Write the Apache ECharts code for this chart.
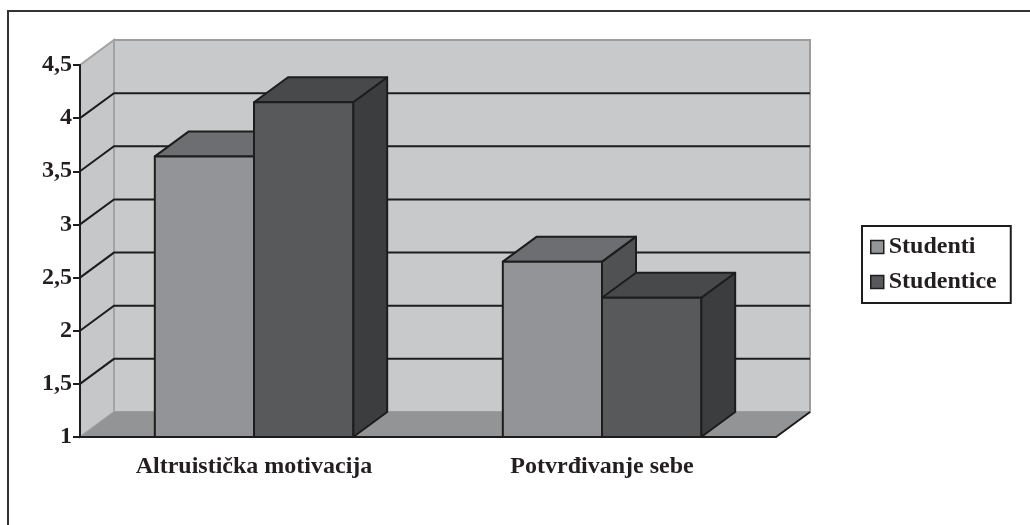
<!DOCTYPE html>
<html lang="hr">
<head>
    <meta charset="UTF-8">
    <title>Motivacija</title>
    <script src="https://cdn.jsdelivr.net/npm/echarts@6/dist/echarts.min.js"></script>
    <style>
        html, body { margin: 0; padding: 0; background: #fff; }
        #frame {
            position: absolute; left: 7px; top: 10px; right: 0; bottom: 0;
            border-left: 2px solid #333; border-top: 2px solid #333;
        }
        #container {
            position: absolute; left: 0; top: 0;
            width: 1030px; height: 525px;
        }
    </style>
</head>
<body>
<div id="frame"></div>
<div id="container"></div>
<script type="text/javascript">

    var categories = ['Altruistička motivacija', 'Potvrđivanje sebe'];
    var studenti = [3.64, 2.65];
    var studentice = [4.15, 2.31];
    var gridValues = [1.5, 2, 2.5, 3, 3.5, 4];

    // depth of the fake 3d box
    var DX = 34, DY = -25;
    var INK = '#1d1d1d';
    var FONT = 'Liberation Serif';

    function wallItem(params, api) {
        var cs = params.coordSys;
        var x0 = cs.x, x1 = cs.x + cs.width;
        var yTop = cs.y, yBot = cs.y + cs.height;
        return {
            type: 'group',
            children: [
                {   // back wall
                    type: 'rect',
                    shape: {x: x0 + DX, y: yTop + DY, width: cs.width, height: cs.height},
                    style: {fill: '#c8c9cb', stroke: '#9c9d9f', lineWidth: 2}
                },
                {   // left wall
                    type: 'polygon',
                    shape: {points: [[x0, yBot], [x0, yTop], [x0 + DX, yTop + DY], [x0 + DX, yBot + DY]]},
                    style: {fill: '#c6c7c9', stroke: '#a2a3a5', lineWidth: 2}
                },
                {   // floor
                    type: 'polygon',
                    shape: {points: [[x0, yBot], [x1, yBot], [x1 + DX, yBot + DY], [x0 + DX, yBot + DY]]},
                    style: {fill: '#939496'}
                },
                {
                    type: 'line',
                    shape: {x1: x1, y1: yBot, x2: x1 + DX, y2: yBot + DY},
                    style: {stroke: INK, lineWidth: 2}
                }
            ]
        };
    }

    function gridItem(params, api) {
        var cs = params.coordSys;
        var y = api.coord([0, api.value(1)])[1];
        return {
            type: 'polyline',
            shape: {points: [[cs.x, y], [cs.x + DX, y + DY], [cs.x + cs.width + DX, y + DY]]},
            style: {stroke: INK, lineWidth: 2, fill: null}
        };
    }

    function makeBox(side, colors) {
        return function (params, api) {
            var top = api.coord([api.value(0), api.value(1)]);
            var base = api.coord([api.value(0), 1]);
            var bw = api.size([1, 0])[0] * 0.285;
            var x0 = side < 0 ? top[0] - bw : top[0];
            var y0 = top[1], y1 = base[1];
            var st = {stroke: INK, lineWidth: 2, lineJoin: 'round'};
            return {
                type: 'group',
                children: [
                    {
                        type: 'polygon',
                        shape: {points: [[x0 + bw, y0], [x0 + bw + DX, y0 + DY], [x0 + bw + DX, y1 + DY], [x0 + bw, y1]]},
                        style: Object.assign({fill: colors[2]}, st)
                    },
                    {
                        type: 'polygon',
                        shape: {points: [[x0, y0], [x0 + DX, y0 + DY], [x0 + bw + DX, y0 + DY], [x0 + bw, y0]]},
                        style: Object.assign({fill: colors[1]}, st)
                    },
                    {
                        type: 'rect',
                        shape: {x: x0, y: y0, width: bw, height: y1 - y0},
                        style: Object.assign({fill: colors[0]}, st)
                    }
                ]
            };
        };
    }

    var studentiColors = ['#939497', '#6d6e71', '#505153'];
    var studenticeColors = ['#58595b', '#48494b', '#3c3d3f'];

    var myChart = echarts.init(document.getElementById('container'));
    myChart.setOption({
        animation: false,
        grid: {left: 80, right: 254, top: 65, bottom: 88},
        legend: {
            data: ['Studenti', 'Studentice'],
            orient: 'vertical',
            left: 862,
            top: 226,
            padding: [9, 14, 9, 8],
            itemGap: 11,
            itemWidth: 13,
            itemHeight: 13,
            icon: 'rect',
            itemStyle: {borderColor: INK, borderWidth: 1.5},
            borderColor: INK,
            borderWidth: 2,
            textStyle: {fontFamily: FONT, fontWeight: 'bold', fontSize: 24, color: '#231f20', padding: [2, 0, 0, 0]}
        },
        xAxis: {
            type: 'category',
            data: categories,
            axisLine: {lineStyle: {color: INK, width: 2}},
            axisTick: {length: 8, lineStyle: {color: INK, width: 2}},
            axisLabel: {margin: 18, fontFamily: FONT, fontWeight: 'bold', fontSize: 24, color: '#231f20'},
            splitLine: {show: false}
        },
        yAxis: {
            type: 'value',
            min: 1,
            max: 4.5,
            interval: 0.5,
            axisLine: {show: true, lineStyle: {color: INK, width: 2}},
            axisTick: {show: true, length: 7, lineStyle: {color: INK, width: 2}},
            axisLabel: {
                margin: 8,
                fontFamily: FONT, fontWeight: 'bold', fontSize: 24, color: '#231f20',
                formatter: function (v) { return String(v).replace('.', ','); }
            },
            splitLine: {show: false}
        },
        series: [
            {
                type: 'custom',
                name: 'wall',
                silent: true,
                z: 0,
                data: [[0, 1]],
                renderItem: wallItem
            },
            {
                type: 'custom',
                name: 'grid',
                silent: true,
                z: 1,
                data: gridValues.map(function (v) { return [0, v]; }),
                renderItem: gridItem
            },
            {
                type: 'custom',
                name: 'Studenti',
                z: 2,
                itemStyle: {color: studentiColors[0]},
                data: studenti.map(function (v, i) { return [i, v]; }),
                renderItem: makeBox(-1, studentiColors)
            },
            {
                type: 'custom',
                name: 'Studentice',
                z: 3,
                itemStyle: {color: studenticeColors[0]},
                data: studentice.map(function (v, i) { return [i, v]; }),
                renderItem: makeBox(1, studenticeColors)
            }
        ]
    });
</script>
</body>
</html>
